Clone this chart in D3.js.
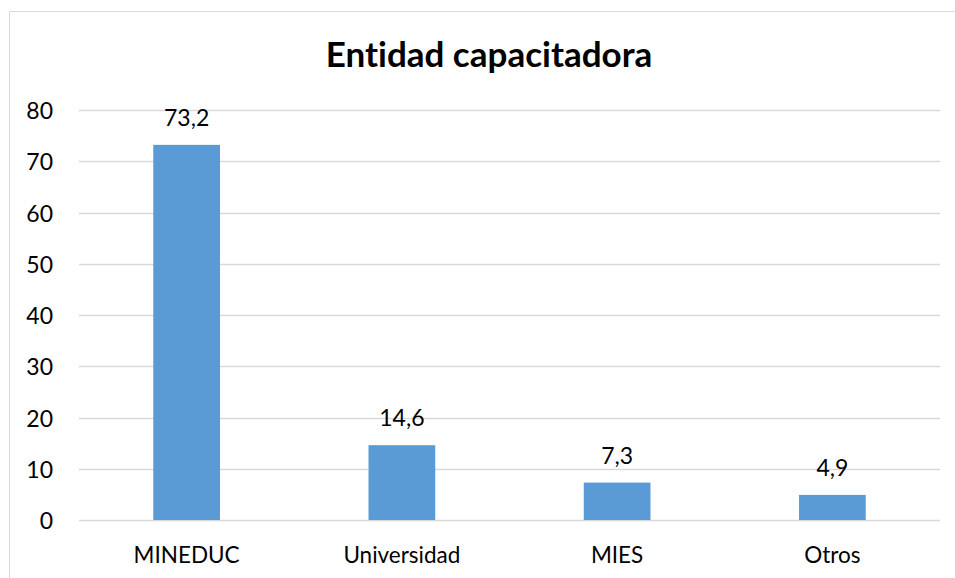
<html>
<head>
<script src="https://d3js.org/d3.v7.min.js"></script>
<style>
  body { margin: 0; background: #fff; }
  text { font-family: Lato, "Open Sans", sans-serif; fill: #000; font-variant-ligatures: none; }
</style>
</head>
<body>
<svg id="chart" width="955" height="578"></svg>
<script>
var categories = ["MINEDUC", "Universidad", "MIES", "Otros"];
var values = [73.2, 14.6, 7.3, 4.9];
var valueLabels = ["73,2", "14,6", "7,3", "4,9"];
var yTicks = [0, 10, 20, 30, 40, 50, 60, 70, 80];

var svg = d3.select("#chart");
var margin = {left: 79, right: 15, top: 110, bottom: 58};
var width = 955, height = 578;

// chart frame (only top and left edges show in the crop)
svg.append("path")
  .attr("d", "M9.5,578 V11.5 H955")
  .style("fill", "none")
  .style("stroke", "#d9d9d9")
  .style("stroke-width", 1);

var x = d3.scaleBand()
  .domain(categories)
  .range([margin.left, width - margin.right])
  .paddingInner(0.69)
  .paddingOuter(0.345);

var y = d3.scaleLinear()
  .domain([0, 80])
  .range([height - margin.bottom, margin.top]);

// gridlines
svg.selectAll("line.grid")
  .data(yTicks)
  .enter()
  .append("line")
    .attr("x1", margin.left)
    .attr("x2", width - margin.right)
    .attr("y1", function(d){ return Math.round(y(d)) + 0.5 })
    .attr("y2", function(d){ return Math.round(y(d)) + 0.5 })
    .style("stroke", "#d9d9d9")
    .style("stroke-width", 1.5);

// y tick labels
svg.selectAll("text.ytick")
  .data(yTicks)
  .enter()
  .append("text")
    .attr("x", 53)
    .attr("y", function(d){ return y(d) })
    .attr("text-anchor", "end")
    .attr("dominant-baseline", "central")
    .style("font-size", "23px")
    .text(function(d){ return d });

// bars
svg.selectAll("rect.bar")
  .data(values)
  .enter()
  .append("rect")
    .attr("x", function(d, i){ return x(categories[i]) })
    .attr("width", x.bandwidth())
    .attr("y", function(d){ return y(d) })
    .attr("height", function(d){ return y(0) - y(d) })
    .style("fill", "#5b9bd5");

// value labels
svg.selectAll("text.val")
  .data(values)
  .enter()
  .append("text")
    .attr("x", function(d, i){ return x(categories[i]) + x.bandwidth() / 2 })
    .attr("y", function(d){ return y(d) - 19 })
    .attr("text-anchor", "middle")
    .style("font-size", "23px")
    .text(function(d, i){ return valueLabels[i] });

// category labels
svg.selectAll("text.cat")
  .data(categories)
  .enter()
  .append("text")
    .attr("x", function(d){ return x(d) + x.bandwidth() / 2 })
    .attr("y", 563)
    .attr("text-anchor", "middle")
    .style("font-size", "22.5px")
    .text(function(d){ return d });

// title
svg.append("text")
  .attr("x", 489)
  .attr("y", 67)
  .attr("text-anchor", "middle")
  .style("font-size", "35px")
  .style("font-weight", "bold")
  .text("Entidad capacitadora");
</script>
</body>
</html>
